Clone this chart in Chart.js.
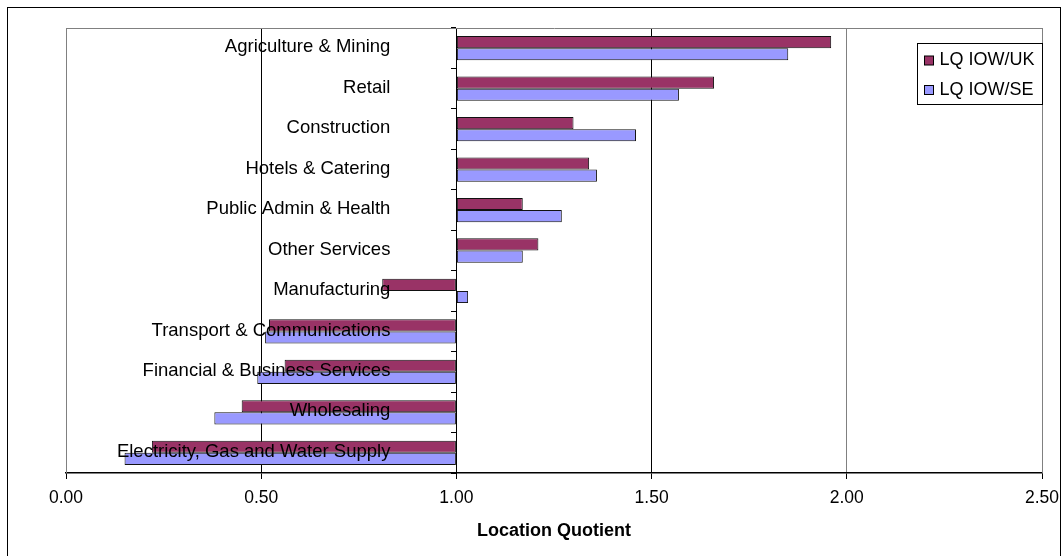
<!DOCTYPE html>
<html>
<head>
<meta charset="utf-8">
<script src="https://cdn.jsdelivr.net/npm/chart.js@4.4.1/dist/chart.umd.min.js"></script>
<style>
    html, body { margin: 0; padding: 0; background: #fff; }
    #wrap { position: relative; width: 1062px; height: 556px; }
</style>
</head>
<body>
<div id="wrap"><canvas id="lqChart" width="1062" height="556"></canvas></div>
<script>
const categories = [
    'Agriculture & Mining',
    'Retail',
    'Construction',
    'Hotels & Catering',
    'Public Admin & Health',
    'Other Services',
    'Manufacturing',
    'Transport & Communications',
    'Financial & Business Services',
    'Wholesaling',
    'Electricity, Gas and Water Supply'
];
const lqUK = [1.96, 1.66, 1.30, 1.34, 1.17, 1.21, 0.81, 0.52, 0.56, 0.45, 0.22];
const lqSE = [1.85, 1.57, 1.46, 1.36, 1.27, 1.17, 1.03, 0.51, 0.49, 0.38, 0.15];
const xTicks = [0, 0.5, 1, 1.5, 2, 2.5];

const FONT = "'Liberation Sans', Arial, sans-serif";
const CROSS_AT = 1;

// outer frame plus the grey edge of the plot area
const framePlugin = {
    id: 'frame',
    beforeDraw(chart) {
        const ctx = chart.ctx;
        ctx.save();
        ctx.strokeStyle = '#000';
        ctx.lineWidth = 1;
        ctx.strokeRect(7.5, 7.5, 1053, 580);
        ctx.restore();
    },
    beforeDatasetsDraw(chart) {
        const { ctx, chartArea: a } = chart;
        ctx.save();
        ctx.strokeStyle = '#808080';
        ctx.lineWidth = 1;
        ctx.beginPath();
        ctx.moveTo(Math.round(a.left) + 0.5, a.bottom);
        ctx.lineTo(Math.round(a.left) + 0.5, Math.round(a.top) + 0.5);
        ctx.lineTo(Math.round(a.right) + 0.5, Math.round(a.top) + 0.5);
        ctx.lineTo(Math.round(a.right) + 0.5, a.bottom);
        ctx.stroke();
        ctx.restore();
    }
};

// category names sit well to the left of the crossing axis, on top of the bars
const categoryLabels = {
    id: 'categoryLabels',
    afterDatasetsDraw(chart) {
        const { ctx, scales } = chart;
        const x = scales.x.getPixelForValue(CROSS_AT) - 66;
        ctx.save();
        ctx.font = `18.5px ${FONT}`;
        ctx.fillStyle = '#000';
        ctx.textAlign = 'right';
        ctx.textBaseline = 'middle';
        chart.data.labels.forEach((label, i) => {
            ctx.fillText(label, x, scales.y.getPixelForValue(i) - 1);
        });
        ctx.restore();
    }
};

// boxed legend sitting in the top right corner of the plot
const boxLegend = {
    id: 'boxLegend',
    afterDraw(chart) {
        const { ctx, chartArea: a } = chart;
        const w = 125, h = 61;
        const x = Math.round(a.right) - w + 0.5;
        const y = 43.5;
        ctx.save();
        ctx.fillStyle = '#fff';
        ctx.strokeStyle = '#000';
        ctx.lineWidth = 1;
        ctx.fillRect(x, y, w, h);
        ctx.strokeRect(x, y, w, h);
        ctx.font = `18px ${FONT}`;
        ctx.textBaseline = 'middle';
        chart.data.datasets.forEach((ds, i) => {
            const cy = y + 17 + i * 29.5;
            ctx.fillStyle = ds.backgroundColor;
            ctx.fillRect(x + 7, cy - 4.5, 9, 9);
            ctx.strokeRect(x + 7, cy - 4.5, 9, 9);
            ctx.fillStyle = '#000';
            ctx.fillText(ds.label, x + 22, cy);
        });
        ctx.restore();
    }
};

function noPadding(scale) {
    scale.paddingTop = 0;
    scale.paddingBottom = 0;
    scale.paddingLeft = 0;
    scale.paddingRight = 0;
}

const ctx = document.getElementById('lqChart').getContext('2d');
new Chart(ctx, {
    type: 'bar',
    data: {
        labels: categories,
        datasets: [{
            label: 'LQ IOW/UK',
            data: lqUK,
            base: CROSS_AT,
            backgroundColor: '#993366',
            borderColor: '#111',
            borderWidth: 1,
            borderSkipped: false
        }, {
            label: 'LQ IOW/SE',
            data: lqSE,
            base: CROSS_AT,
            backgroundColor: '#9999ff',
            borderColor: '#111',
            borderWidth: 1,
            borderSkipped: false
        }]
    },
    options: {
        indexAxis: 'y',
        responsive: false,
        animation: false,
        events: [],
        categoryPercentage: 0.6,
        barPercentage: 1,
        layout: {
            padding: { left: 66, right: 20, top: 28, bottom: 0 }
        },
        scales: {
            x: {
                type: 'linear',
                position: 'bottom',
                min: 0,
                max: 2.5,
                afterBuildTicks: scale => {
                    scale.ticks = xTicks.map(v => ({ value: v }));
                },
                afterFit: scale => {
                    scale.height = 83;
                    noPadding(scale);
                },
                ticks: {
                    callback: v => Number(v).toFixed(2),
                    font: { family: FONT, size: 17.5 },
                    color: '#000',
                    padding: 9,
                    maxRotation: 0
                },
                grid: {
                    color: c => (c.tick && (c.tick.value === 0.5 || c.tick.value === 1.5)) ? '#000' : '#808080',
                    tickColor: '#000',
                    tickLength: 6,
                    lineWidth: 1
                },
                border: { color: '#000', width: 1.5 },
                title: {
                    display: true,
                    text: 'Location Quotient',
                    font: { family: FONT, size: 18, weight: 'bold' },
                    color: '#000',
                    padding: { top: 4, bottom: 14 }
                }
            },
            y: {
                type: 'category',
                position: { x: CROSS_AT },
                afterFit: noPadding,
                ticks: { display: false },
                grid: {
                    drawOnChartArea: false,
                    tickLength: 5,
                    color: '#000'
                },
                border: { color: '#000', width: 1 }
            }
        },
        plugins: {
            legend: { display: false },
            tooltip: { enabled: false }
        }
    },
    plugins: [framePlugin, categoryLabels, boxLegend]
});
</script>
</body>
</html>
